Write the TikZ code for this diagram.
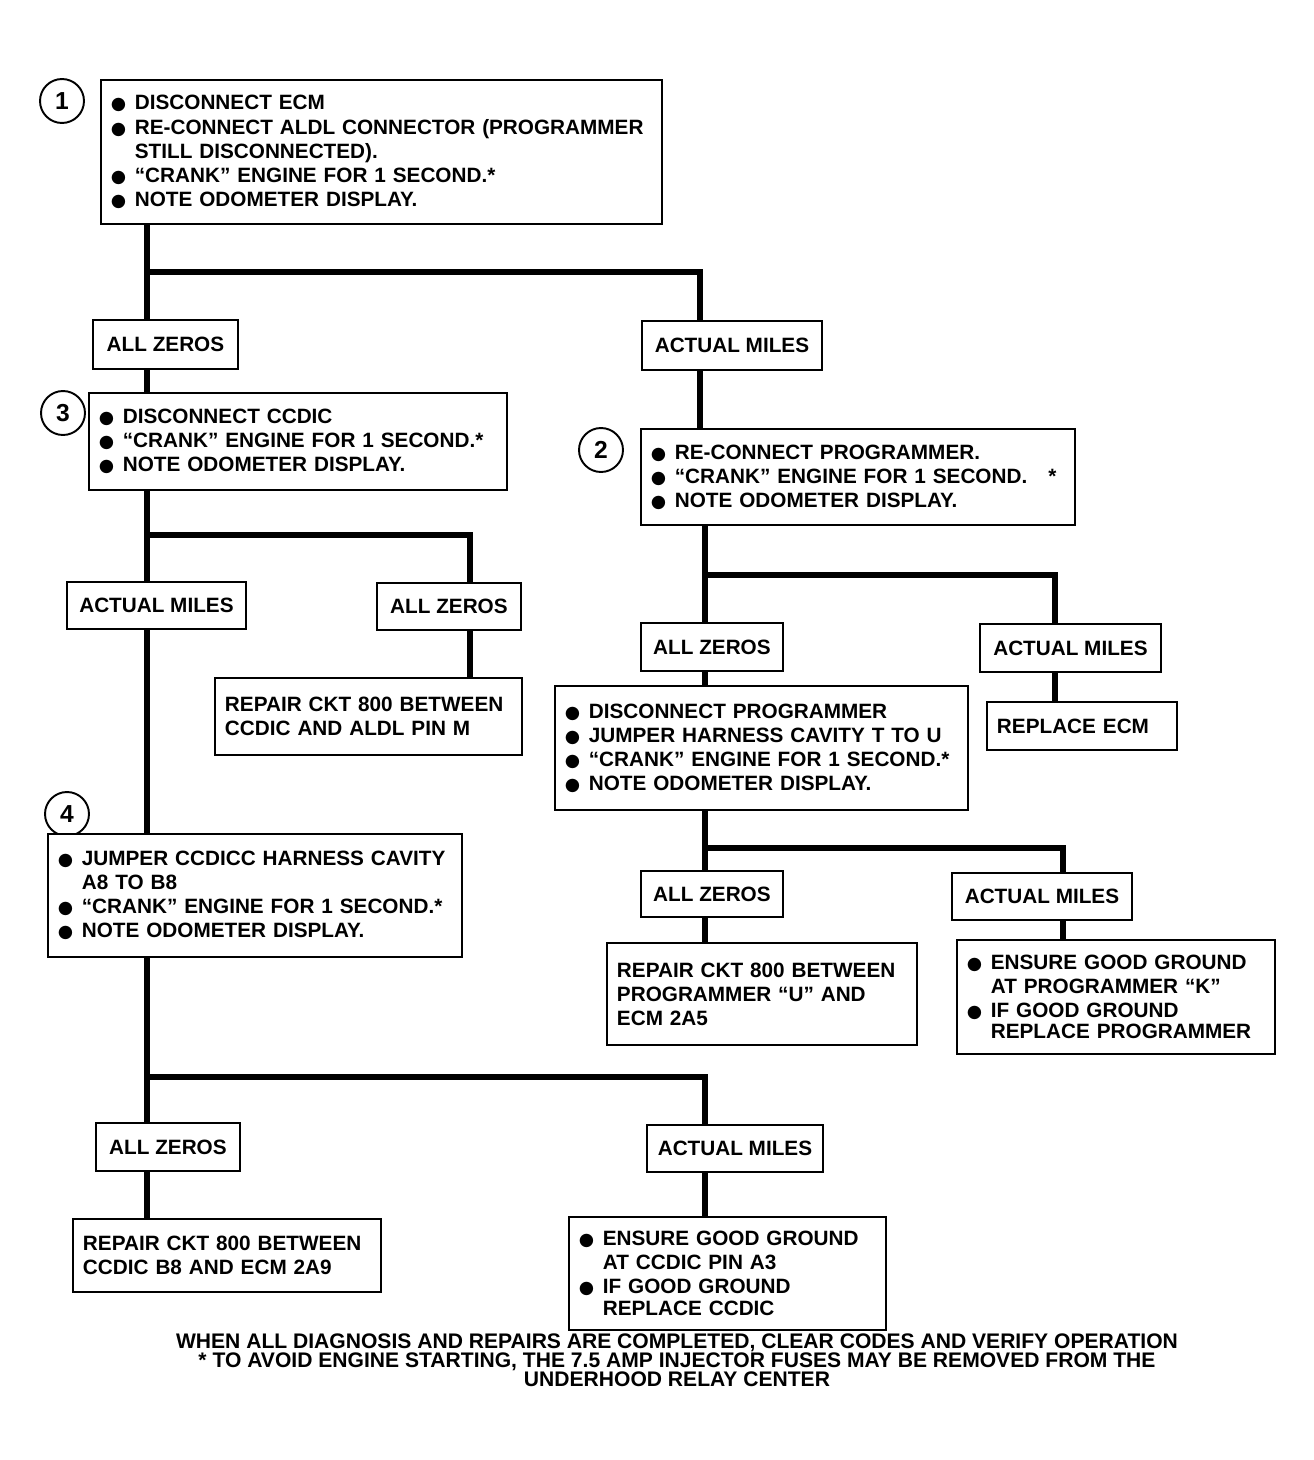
\documentclass[tikz,border=0pt]{standalone}
\usepackage{fontspec}
\setmainfont{Liberation Sans}
\newfontfamily\symf{DejaVu Sans}
\newfontfamily\footf{Liberation Sans}
\newcommand\bul{\makebox[13.6pt][l]{\symf\fontsize{10}{10}\selectfont ●}}
\newcommand\ind{\hspace*{13.6pt}}
\begin{document}
\begin{tikzpicture}[x=0.02cm,y=-0.02cm,
	box/.style={draw,line width=1.1pt,fill=white,anchor=north west,inner xsep=0.2cm,inner ysep=0pt,align=left,font=\bfseries\fontsize{11.8}{13.7}\selectfont},
	tag/.style={draw,line width=1.1pt,fill=white,anchor=north west,inner sep=0pt,font=\bfseries\fontsize{11.8}{13.7}\selectfont},
	num/.style={draw,circle,line width=1.1pt,minimum size=0.88cm,inner sep=0pt,font=\bfseries\fontsize{14}{14}\selectfont},
	conn/.style={line width=3pt}]
		\useasboundingbox (0,0) rectangle (1313,1460);
		% step 1
		\node[num] (c1) at (62,101) {1};
		\node[box,text width=10.82cm,minimum height=2.88cm] (b1) at (100,79) {\bul DISCONNECT ECM\\ \bul RE-CONNECT ALDL CONNECTOR (PROGRAMMER\\ \ind STILL DISCONNECTED).\\ \bul ``CRANK'' ENGINE FOR 1 SECOND.*\\ \bul NOTE ODOMETER DISPLAY.};
		\node[tag,minimum width=2.9cm,minimum height=0.98cm] (za1) at (92,319) {ALL ZEROS};
		\node[tag,minimum width=3.6cm,minimum height=0.98cm] (am1) at (641,320) {ACTUAL MILES};
		% step 3
		\node[num] (c3) at (63,413) {3};
		\node[box,text width=7.96cm,minimum height=1.94cm] (b3) at (88,392) {\bul DISCONNECT CCDIC\\ \bul ``CRANK'' ENGINE FOR 1 SECOND.*\\ \bul NOTE ODOMETER DISPLAY.};
		\node[tag,minimum width=3.58cm,minimum height=0.94cm] (am3) at (66,581) {ACTUAL MILES};
		\node[tag,minimum width=2.88cm,minimum height=0.94cm] (za3) at (376,582) {ALL ZEROS};
		\node[box,text width=5.74cm,minimum height=1.54cm] (r3) at (214,677) {REPAIR CKT 800 BETWEEN\\ CCDIC AND ALDL PIN M};
		% step 2
		\node[num] (c2) at (601,450) {2};
		\node[box,text width=8.28cm,minimum height=1.92cm] (b2) at (640,428) {\bul RE-CONNECT PROGRAMMER.\\ \bul ``CRANK'' ENGINE FOR 1 SECOND.\hspace{12pt}*\\ \bul NOTE ODOMETER DISPLAY.};
		\node[tag,minimum width=2.84cm,minimum height=0.96cm] (za2) at (640,622) {ALL ZEROS};
		\node[tag,minimum width=3.62cm,minimum height=0.96cm] (am2) at (979,623) {ACTUAL MILES};
		\node[box,text width=7.86cm,minimum height=2.48cm] (b5) at (554,685) {\bul DISCONNECT PROGRAMMER\\ \bul JUMPER HARNESS CAVITY T TO U\\ \bul ``CRANK'' ENGINE FOR 1 SECOND.*\\ \bul NOTE ODOMETER DISPLAY.};
		\node[box,text width=3.4cm,minimum height=0.96cm] (re) at (986,701) {REPLACE ECM};
		\node[tag,minimum width=2.84cm,minimum height=0.92cm] (za5) at (640,870) {ALL ZEROS};
		\node[tag,minimum width=3.6cm,minimum height=0.94cm] (am5) at (951,872) {ACTUAL MILES};
		\node[box,text width=5.8cm,minimum height=2.04cm] (r5) at (606,942) {REPAIR CKT 800 BETWEEN\\ PROGRAMMER ``U'' AND\\ ECM 2A5};
		\node[box,text width=5.96cm,minimum height=2.28cm] (e5) at (956,939) {\bul ENSURE GOOD GROUND\\ \ind AT PROGRAMMER ``K''\\ \bul IF GOOD GROUND\\[-1.5pt] \ind REPLACE PROGRAMMER};
		% step 4
		\node[num] (c4) at (67,814) {4};
		\node[box,text width=7.88cm,minimum height=2.46cm] (b4) at (47,833) {\bul JUMPER CCDICC HARNESS CAVITY\\ \ind A8 TO B8\\ \bul ``CRANK'' ENGINE FOR 1 SECOND.*\\ \bul NOTE ODOMETER DISPLAY.};
		\node[tag,minimum width=2.88cm,minimum height=0.96cm] (za4) at (95,1122) {ALL ZEROS};
		\node[tag,minimum width=3.52cm,minimum height=0.94cm] (am4) at (646,1124) {ACTUAL MILES};
		\node[box,text width=5.76cm,minimum height=1.46cm] (r4) at (72,1218) {REPAIR CKT 800 BETWEEN\\ CCDIC B8 AND ECM 2A9};
		\node[box,text width=5.94cm,minimum height=2.26cm] (e4) at (568,1216) {\bul ENSURE GOOD GROUND\\ \ind AT CCDIC PIN A3\\ \bul IF GOOD GROUND\\[-1.5pt] \ind REPLACE CCDIC};
		% note
		\node[align=center,inner sep=0pt,font=\footf\bfseries\fontsize{12}{10.8}\selectfont] (note) at (677,1360) {WHEN ALL DIAGNOSIS AND REPAIRS ARE COMPLETED, CLEAR CODES AND VERIFY OPERATION\\ * TO AVOID ENGINE STARTING, THE 7.5 AMP INJECTOR FUSES MAY BE REMOVED FROM THE\\ UNDERHOOD RELAY CENTER};
		% branch points
		\coordinate (j1) at (147,272);
		\coordinate (k1) at (700,272);
		\coordinate (j3) at (147,535);
		\coordinate (k3) at (470,535);
		\coordinate (j2) at (705,575);
		\coordinate (k2) at (1055,575);
		\coordinate (j5) at (705,848);
		\coordinate (k5) at (1063,848);
		\coordinate (j4) at (147,1077);
		\coordinate (k4) at (705,1077);
		% lines
		\draw[conn] (j1 |- b1.south)--(j1 |- za1.north);
		\draw[conn] (j1)--(k1)--(k1 |- am1.north);
		\draw[conn] (j1 |- za1.south)--(j1 |- b3.north);
		\draw[conn] (k1 |- am1.south)--(k1 |- b2.north);
		\draw[conn] (j3 |- b3.south)--(j3 |- am3.north);
		\draw[conn] (j3)--(k3)--(k3 |- za3.north);
		\draw[conn] (k3 |- za3.south)--(k3 |- r3.north);
		\draw[conn] (j3 |- am3.south)--(j3 |- b4.north);
		\draw[conn] (j2 |- b2.south)--(j2 |- za2.north);
		\draw[conn] (j2)--(k2)--(k2 |- am2.north);
		\draw[conn] (j2 |- za2.south)--(j2 |- b5.north);
		\draw[conn] (k2 |- am2.south)--(k2 |- re.north);
		\draw[conn] (j5 |- b5.south)--(j5 |- za5.north);
		\draw[conn] (j5)--(k5)--(k5 |- am5.north);
		\draw[conn] (j5 |- za5.south)--(j5 |- r5.north);
		\draw[conn] (k5 |- am5.south)--(k5 |- e5.north);
		\draw[conn] (j4 |- b4.south)--(j4 |- za4.north);
		\draw[conn] (j4)--(k4)--(k4 |- am4.north);
		\draw[conn] (j4 |- za4.south)--(j4 |- r4.north);
		\draw[conn] (k4 |- am4.south)--(k4 |- e4.north);
	\end{tikzpicture}
\end{document}
